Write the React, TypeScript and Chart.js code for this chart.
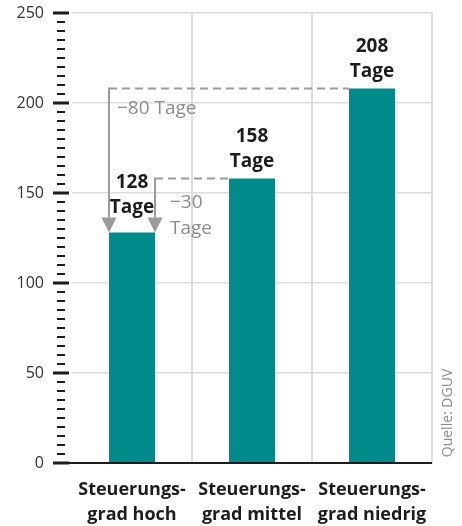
import { useEffect, useRef } from "react";
import { Chart, registerables } from "chart.js";

Chart.register(...registerables);

// Categories (two-line labels), durations in days, axis ticks
const categories = [
  ["Steuerungs-", "grad hoch"],
  ["Steuerungs-", "grad mittel"],
  ["Steuerungs-", "grad niedrig"],
];
const durations = [128, 158, 208];
const unit = "Tage";
const yMax = 250;
const yStep = 50;
const minorStep = 5;
const source = "Quelle: DGUV";

const TEAL = "#008B8B";
const INK = "#1d1d1b";
const GREY = "#9b9b9b";
const GRID = "#dddddd";
const FONT = "'Open Sans', sans-serif";

const minus = (n: number) => (n < 0 ? "\u2212" + Math.abs(n) : String(n));

const overlay = {
  id: "overlay",
  afterDatasetsDraw(chart: any) {
    const { ctx, chartArea, scales } = chart;
    const y = scales.y;
    const bars = chart.getDatasetMeta(0).data;
    const base = y.getPixelForValue(0);
    const axisLeft = chartArea.left - 19;

    ctx.save();

    // baseline
    ctx.fillStyle = INK;
    ctx.fillRect(axisLeft, base - 1, chartArea.right - axisLeft, 2);

    // major and minor tick marks
    for (let v = 0; v <= yMax; v += minorStep) {
      const py = y.getPixelForValue(v);
      if (v % yStep === 0) ctx.fillRect(axisLeft, py - 1.5, 16, 3);
      else ctx.fillRect(axisLeft + 4, py - 1, 8, 2);
    }

    // difference arrows towards the first bar
    const b0 = bars[0];
    const left0 = b0.x - b0.width / 2;
    const right0 = b0.x + b0.width / 2;
    const top0 = b0.y;
    const arrowH = 15;
    const arrowW = 15;

    const elbow = (xv: number, from: any) => {
      const yFrom = from.y;
      const xEnd = from.x - from.width / 2;
      ctx.strokeStyle = GREY;
      ctx.lineWidth = 2;
      ctx.setLineDash([8, 5]);
      ctx.beginPath();
      ctx.moveTo(xv, yFrom);
      ctx.lineTo(xEnd, yFrom);
      ctx.stroke();
      ctx.setLineDash([]);
      ctx.beginPath();
      ctx.moveTo(xv, yFrom - 1);
      ctx.lineTo(xv, top0 - arrowH);
      ctx.stroke();
      ctx.fillStyle = GREY;
      ctx.beginPath();
      ctx.moveTo(xv - arrowW / 2, top0 - arrowH);
      ctx.lineTo(xv + arrowW / 2, top0 - arrowH);
      ctx.lineTo(xv, top0);
      ctx.closePath();
      ctx.fill();
    };

    elbow(left0, bars[2]);
    elbow(right0, bars[1]);

    ctx.fillStyle = "#8c8c8c";
    ctx.font = `19px ${FONT}`;
    ctx.textAlign = "left";
    ctx.textBaseline = "middle";
    ctx.fillText(`${minus(durations[0] - durations[2])} ${unit}`, left0 + 8, bars[2].y + 20);
    ctx.fillText(minus(durations[0] - durations[1]), right0 + 15, bars[1].y + 24);
    ctx.fillText(unit, right0 + 15, bars[1].y + 50);

    // value labels above bars
    ctx.fillStyle = INK;
    ctx.font = `bold 19px ${FONT}`;
    ctx.textAlign = "center";
    bars.forEach((bar: any, i: number) => {
      const lift = i === 0 ? 50 : 42;
      ctx.fillText(String(durations[i]), bar.x, bar.y - lift);
      ctx.fillText(unit, bar.x, bar.y - lift + 25);
    });

    // source note, rotated
    ctx.save();
    ctx.translate(chart.width - 14, base - 50);
    ctx.rotate(-Math.PI / 2);
    ctx.fillStyle = "#8c8c8c";
    ctx.font = `14px ${FONT}`;
    ctx.textAlign = "center";
    ctx.fillText(source, 0, 0);
    ctx.restore();

    ctx.restore();
  },
};

export default function App() {
  const ref = useRef<HTMLCanvasElement>(null);

  useEffect(() => {
    const chart = new Chart(ref.current!, {
      type: "bar",
      data: {
        labels: categories,
        datasets: [
          {
            data: durations,
            backgroundColor: TEAL,
            borderWidth: 0,
            barPercentage: 46 / 120,
            categoryPercentage: 1,
          },
        ],
      },
      options: {
        animation: false,
        responsive: true,
        maintainAspectRatio: false,
        layout: { padding: { top: 13, right: 30, left: 0, bottom: 0 } },
        plugins: { legend: { display: false }, tooltip: { enabled: false } },
        scales: {
          x: {
            offset: true,
            border: { display: false },
            grid: {
              offset: true,
              drawTicks: false,
              lineWidth: 2,
              color: (c: any) => (c.index === 0 ? "rgba(0,0,0,0)" : GRID),
            },
            ticks: {
              color: INK,
              padding: 14.5,
              font: { family: FONT, size: 18, weight: "bold", lineHeight: 25 / 18 },
            },
            afterFit: (s: any) => {
              s.height = 63;
            },
          },
          y: {
            min: 0,
            max: yMax,
            border: { display: false },
            grid: {
              drawTicks: true,
              tickLength: 26,
              tickColor: "rgba(0,0,0,0)",
              color: GRID,
              lineWidth: 1.5,
            },
            ticks: {
              stepSize: yStep,
              color: "#333333",
              padding: 2,
              font: { family: FONT, size: 16 },
            },
            afterFit: (s: any) => {
              s.width = 72;
            },
          },
        },
      },
      plugins: [overlay],
    });
    return () => chart.destroy();
  }, []);

  return (
    <div style={{ position: "absolute", left: 0, top: 0, width: 462, height: 526 }}>
      <canvas ref={ref} />
    </div>
  );
}
